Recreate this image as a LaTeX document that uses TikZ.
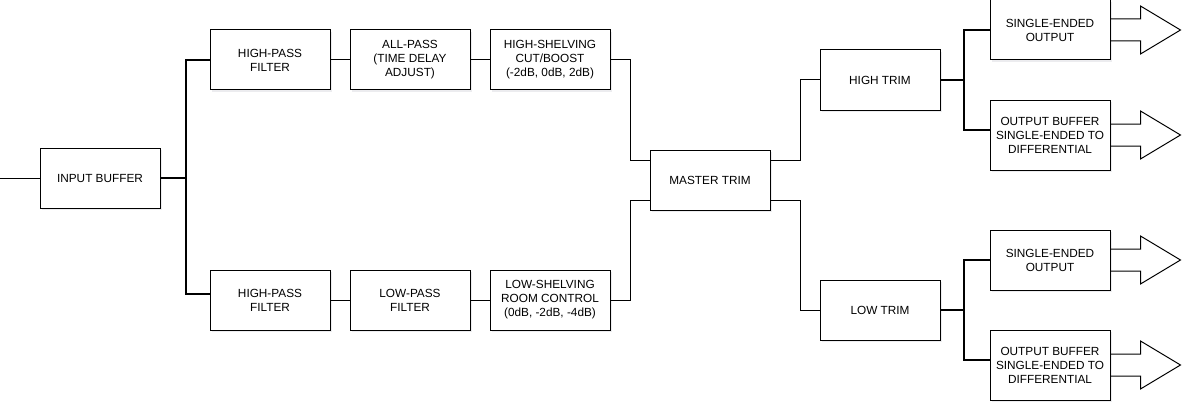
\documentclass[tikz,border=0pt]{standalone}
\usepackage{fontspec}
\setmainfont{Liberation Sans}
\usetikzlibrary{shadows}

\tikzset{
  block/.style={draw, fill=white, line width=1pt, minimum width=120pt, minimum height=60pt,
    align=center, inner sep=2pt, font=\fontsize{11.8}{14}\selectfont,
    drop shadow={shadow xshift=2pt, shadow yshift=-2pt, opacity=0.35, fill=blue!8!gray!40}},
  tallblock/.style={block, minimum height=70pt},
  wire/.style={line width=1pt},
  bus/.style={line width=2pt},
  outarrow/.style={line width=1pt, line join=miter}
}

\begin{document}
\begin{tikzpicture}[x=1pt, y=-1pt]
    \useasboundingbox (0,0) rectangle (1192,412);

            % Input stage
            \coordinate (in) at (0,178);
            \node[block] (inbuf) at (100,178) {INPUT BUFFER};

            % High path
            \node[block] (hpfa) at (270,60) {HIGH-PASS\\FILTER};
            \node[block] (allpass) at (410,60) {ALL-PASS\\(TIME DELAY\\ADJUST)};
            \node[block] (hishelf) at (550,60) {HIGH-SHELVING\\CUT/BOOST\\(-2dB, 0dB, 2dB)};

            % Low path
            \node[block] (hpfb) at (270,300) {HIGH-PASS\\FILTER};
            \node[block] (lowpass) at (410,300) {LOW-PASS\\FILTER};
            \node[block] (loshelf) at (550,300) {LOW-SHELVING\\ROOM CONTROL\\(0dB, -2dB, -4dB)};

            % Trims
            \node[block] (master) at (710,180) {MASTER TRIM};
            \node[block] (hitrim) at (880,80) {HIGH TRIM};
            \node[block] (lotrim) at (880,310) {LOW TRIM};

            % Outputs
            \node[block] (seouta) at (1050,30) {SINGLE-ENDED\\OUTPUT};
            \node[tallblock] (obufa) at (1050,135) {OUTPUT BUFFER\\SINGLE-ENDED TO\\DIFFERENTIAL};
            \node[block] (seoutb) at (1050,260) {SINGLE-ENDED\\OUTPUT};
            \node[tallblock] (obufb) at (1050,365) {OUTPUT BUFFER\\SINGLE-ENDED TO\\DIFFERENTIAL};

            % Connections
            \draw[wire] (in) -- (inbuf.west); % input line
            \draw[bus] (inbuf.east) -- ++(25,0) coordinate (split); % split to both paths
            \draw[bus] (hpfa.west) -| (split) |- ([yshift=6pt]hpfb.west);
            \draw[wire] (hpfa) -- (allpass) -- (hishelf);
            \draw[wire] (hpfb) -- (lowpass) -- (loshelf);
            \draw[wire] (hishelf.east) -- ++(20,0) |- ([yshift=20pt]master.west); % high sum
            \draw[wire] (loshelf.east) -- ++(20,0) |- ([yshift=-20pt]master.west); % low sum
            \draw[wire] ([yshift=20pt]master.east) -- ++(30,0) |- (hitrim.west);
            \draw[wire] ([yshift=-20pt]master.east) -- ++(30,0) |- (lotrim.west);
            \draw[bus] (hitrim.east) -- ++(23,0) coordinate (hisplit);
            \draw[bus] (seouta.west) -| (hisplit) |- ([yshift=5pt]obufa.west);
            \draw[bus] (lotrim.east) -- ++(23,0) coordinate (losplit);
            \draw[bus] (seoutb.west) -| (losplit) |- ([yshift=5pt]obufb.west);

            % Output arrows
            \foreach \b in {seouta,obufa,seoutb,obufb}
                \draw[outarrow] ([yshift=11pt]\b.east) -- ++(30pt,0pt) -- ++(0pt,13pt)
                    -- ++(40pt,-24pt) -- ++(-40pt,-24pt) -- ++(0pt,13pt) -- ++(-30pt,0pt);

        \end{tikzpicture}
\end{document}
